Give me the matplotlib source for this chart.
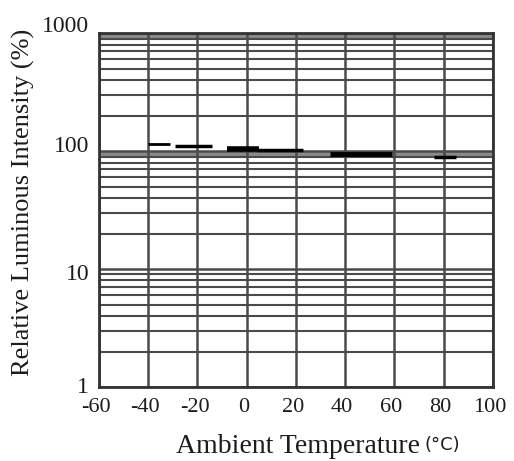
import numpy as np
import matplotlib.pyplot as plt
from matplotlib.ticker import FixedLocator, LogLocator, NullFormatter
from matplotlib.transforms import ScaledTranslation

# data: short horizontal dashes
x_start = [-40, -29, -8, 4, 34, 76]
x_end = [-31, -14, 5, 23, 59, 85]
intensity = [116, 111, 104, 102, 95, 89]

xticks = [-60, -40, -20, 0, 20, 40, 60, 80, 100]
yticks = [1, 10, 100, 1000]
ytick_labels = ['1', '10', '100', '1000']

fig = plt.figure(figsize=(5.14, 4.61), dpi=100)
ax = fig.add_axes([0.1926, 0.1605, 0.7665, 0.7675])

ax.set_xlim(-60, 100)
ax.set_yscale('log')
ax.set_ylim(1, 1000)

# grid
gc = '#4a4a4a'
ax.xaxis.set_major_locator(FixedLocator(xticks))
ax.yaxis.set_major_locator(FixedLocator(yticks))
ax.yaxis.set_minor_locator(LogLocator(base=10, subs=np.arange(2, 10)))
ax.yaxis.set_minor_formatter(NullFormatter())
ax.grid(True, which='major', axis='x', color=gc, lw=1.8)
ax.grid(True, which='major', axis='y', color=gc, lw=1.8)
ax.grid(True, which='minor', axis='y', color=gc, lw=1.5)
ax.axhspan(89, 100, color='#8a8a8a', lw=0, zorder=0.5)
ax.axhspan(900, 1000, color='#8a8a8a', lw=0, zorder=0.5)

ax.hlines(intensity, x_start, x_end, colors='black', lw=[2, 2.5, 4, 2.5, 3.5, 2.5], zorder=3)

for s in ax.spines.values():
    s.set_linewidth(2)
    s.set_color('#333333')

tc = '#1c1c1c'
ax.tick_params(which='both', length=0)
ax.set_xticks(xticks)
ax.set_xticklabels([str(t) for t in xticks], family='Liberation Serif', fontsize=16, color=tc)
ax.tick_params(axis='x', pad=8)
for lab in ax.get_xticklabels():
    lab.set_transform(lab.get_transform() + ScaledTranslation(-3 / 100, 0, fig.dpi_scale_trans))
ax.set_yticks(yticks)
ax.set_yticklabels(ytick_labels, family='Liberation Serif', fontsize=17, color=tc)
ax.tick_params(axis='y', pad=7)
for lab, dy in zip(ax.get_yticklabels(), [2, -3, 7, 9]):
    lab.set_transform(lab.get_transform() + ScaledTranslation(0, dy / 100, fig.dpi_scale_trans))

fig.text(0.046, 0.562, 'Relative Luminous Intensity (%)', rotation=90, ha='center', va='center',
         family='Liberation Serif', fontsize=19, color=tc)
fig.text(0.818, 0.032, 'Ambient Temperature', ha='right', va='center',
         family='Liberation Serif', fontsize=20, color=tc)
fig.text(0.826, 0.034, '(°C)', ha='left', va='center',
         family='DejaVu Sans', fontsize=13, color=tc)

fig.savefig('out.png', dpi=100)
